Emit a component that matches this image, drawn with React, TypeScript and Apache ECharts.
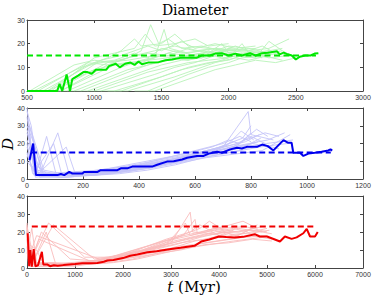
import React, { useEffect, useRef } from "react";
import * as echarts from "echarts";

type Pt = [number, number];

// ---------- Panel 1 (green) ----------
const greenMain: Pt[] = [[500,0],[725,0],[742,3],[762,0],[795,7],[820,0],[837,5],[880,6.5],[920,8],[950,8],[982,7.3],[1012,9],[1050,9],[1090,9],[1110,10.5],[1160,11.5],[1190,10],[1230,11.5],[1270,12],[1300,11],[1330,12.5],[1355,11.3],[1400,12],[1480,12.2],[1530,13],[1580,13.3],[1640,14],[1700,14],[1760,14],[1800,15],[1860,15],[1900,15.8],[1950,16],[2000,15],[2050,15.8],[2100,15],[2160,16],[2200,15],[2250,16],[2290,16.2],[2359,16.8],[2380,15.5],[2410,16.2],[2440,15.5],[2470,15],[2500,13.3],[2530,14.5],[2570,15],[2610,15],[2640,15.8],[2668,16]];
const greenRef: Pt[] = [[500,15],[2650,15]];
const greenRuns: Pt[][] = [
  [[500,0],[620,0],[1000,12],[1150,13],[1300,16],[1400,14],[1500,18],[1650,16],[1800,17],[2000,15],[2100,16]],
  [[500,0],[700,0],[1100,12],[1250,14],[1350,17],[1420,28],[1480,20],[1550,22],[1650,18],[1800,19],[1950,17],[2200,18]],
  [[500,0],[750,0],[1150,11],[1300,12],[1450,14],[1520,26],[1560,18],[1700,16],[1900,18],[2100,17],[2350,16]],
  [[500,0],[800,0],[1200,10],[1350,13],[1500,15],[1600,17],[1750,15],[1900,16],[2050,19],[2150,17],[2300,18],[2450,22]],
  [[800,0],[850,0],[1250,9],[1400,11],[1550,13],[1650,15],[1800,14],[2000,16],[2200,15],[2400,17],[2500,14]],
  [[850,0],[900,0],[1300,9],[1450,12],[1600,14],[1700,13],[1850,17],[1950,15],[2150,16]],
  [[900,0],[950,0],[1350,8],[1500,11],[1650,13],[1800,14],[1950,20],[2000,16],[2250,15],[2400,16]],
  [[950,0],[1000,0],[1400,8],[1550,10],[1700,12],[1850,13],[2000,14],[2100,20],[2150,16],[2300,17]],
  [[1000,0],[1050,0],[1450,7],[1600,10],[1750,12],[1900,15],[2000,18],[2150,17],[2250,19],[2350,16]],
  [[1050,0],[1150,0],[1500,6],[1650,9],[1800,11],[1950,13],[2050,15],[2200,14],[2300,21],[2400,17]],
  [[1150,0],[1250,0],[1600,6],[1750,9],[1900,12],[2050,14],[2150,13],[2300,15]],
  [[1300,0],[1400,0],[1700,7],[1850,10],[2000,12],[2100,14],[2250,15],[2400,13]],
  [[600,0],[650,0],[950,11],[1100,14],[1200,17],[1300,22],[1350,19],[1500,20],[1600,24],[1700,19],[1850,18],[2000,17]],
  [[700,0],[1050,13],[1200,15],[1400,19],[1500,17],[1650,21],[1750,18],[1900,20],[2050,18],[2200,19]],
  [[550,0],[900,10],[1050,12],[1250,13],[1450,15],[1600,14],[1800,16],[1950,14],[2100,15]],
  [[650,0],[1000,9],[1150,11],[1350,12],[1550,16],[1700,15],[1900,17],[2050,16],[2250,14]],
  [[520,0],[850,11],[1000,13],[1150,12],[1300,15],[1450,17],[1600,19],[1750,17],[1900,18],[2050,17]],
  [[580,0],[950,12],[1100,11],[1250,14],[1400,16],[1550,15],[1700,18],[1850,16],[2000,19],[2150,18],[2300,16]],
  [[1100,0],[1200,0],[1550,7],[1700,10],[1850,12],[2000,13],[2150,16],[2300,14],[2450,15]],
  [[750,0],[1100,11],[1250,12],[1400,13],[1550,14],[1700,13],[1850,15],[2000,17],[2200,16],[2400,18]],
  [[1400,0],[1450,0],[1750,6],[1900,9],[2050,11],[2200,13],[2350,12],[2500,14]],
  [[680,0],[1000,14],[1150,16],[1300,18],[1380,24],[1450,19],[1600,20],[1750,22],[1850,19],[2000,20]]
];

// ---------- Panel 2 (blue) ----------
const blueMain: Pt[] = [[9,10.6],[22,20],[32,2.2],[109,2.2],[121,2.8],[133,2.2],[151,4],[162,3.1],[198,3.1],[204,4],[252,4],[263,5],[323,5],[335,6],[358,6],[376,7],[447,7],[465,8],[500,9.8],[524,10],[554,11],[572,12],[607,13],[631,13],[649,14.3],[679,15.4],[696,14.8],[726,16.7],[750,17.6],[767,17.2],[785,18.1],[821,18.1],[840,19.4],[860,18.5],[880,16.1],[916,21.9],[933,20.4],[945,20.4],[951,14.8],[975,14.8],[987,13],[1005,14.3],[1028,14.8],[1052,15.4],[1076,16.1],[1084,16.7],[1090,16]];
const blueRef: Pt[] = [[15,15],[1085,15]];
const blueRuns: Pt[][] = [
  [[0,30],[20,22],[60,2],[150,2],[250,3],[350,5],[450,8],[550,11],[650,16],[750,20],[800,24],[850,20]],
  [[0,38],[15,30],[40,3],[120,1],[220,2],[320,4],[420,6],[520,9],[620,13],[700,18],[790,38],[800,25],[880,22]],
  [[5,25],[30,1],[100,2],[200,3],[300,4],[400,7],[500,10],[600,12],[700,15],[780,22],[850,26],[900,24]],
  [[10,20],[50,4],[110,26],[150,3],[250,4],[350,6],[450,9],[550,12],[650,15],[750,19],[820,28],[860,24]],
  [[0,15],[25,2],[130,1],[230,2],[330,3],[430,5],[530,8],[630,12],[730,15],[830,18],[930,20]],
  [[0,12],[10,18],[35,5],[100,3],[200,4],[300,6],[400,8],[500,12],[600,16],[700,20],[760,24],[800,21]],
  [[0,28],[30,8],[80,2],[180,2],[280,3],[380,5],[480,9],[580,13],[680,17],[780,21],[830,25]],
  [[0,35],[20,12],[60,3],[160,4],[260,5],[360,8],[460,11],[560,14],[660,18],[720,22],[760,20],[800,26]],
  [[15,8],[40,2],[140,2],[240,2],[340,4],[440,6],[540,9],[640,12],[740,14],[840,16],[940,25]],
  [[0,22],[40,3],[140,18],[170,4],[270,4],[370,7],[470,10],[570,13],[670,17],[770,23],[800,30]],
  [[0,10],[30,4],[90,3],[190,3],[290,5],[390,7],[490,10],[590,14],[690,18],[740,21],[780,17]],
  [[5,32],[60,5],[160,2],[260,3],[360,4],[460,7],[560,11],[660,15],[760,19],[860,22],[920,26]],
  [[0,18],[45,1],[150,1],[250,3],[350,5],[450,7],[550,10],[650,14],[750,17],[850,19],[900,17]],
  [[0,26],[35,6],[95,20],[125,2],[225,3],[325,5],[425,8],[525,11],[625,14],[725,16],[825,21]],
  [[0,40],[25,4],[85,2],[185,3],[285,4],[385,6],[485,9],[585,12],[685,16],[785,19],[835,23]],
  [[0,20],[20,3],[115,2],[215,4],[315,6],[415,9],[515,12],[615,15],[715,19],[765,27],[810,22]],
  [[8,30],[55,3],[155,3],[255,4],[355,5],[455,8],[555,10],[655,13],[755,16],[855,20],[950,22]],
  [[0,14],[30,2],[70,24],[105,2],[205,2],[305,3],[405,6],[505,10],[605,14],[705,17],[805,20],[870,18]]
];

// ---------- Panel 3 (red) ----------
const redMain: Pt[] = [[14,19.3],[45,1],[70,10],[100,0.8],[140,10.5],[175,1],[230,1.5],[310,9],[340,2],[420,2],[480,1],[560,1.5],[640,1.2],[760,1.6],[1000,2.2],[1150,2.6],[1300,2.6],[1465,2.8],[1600,3.5],[1675,4.2],[1800,4.5],[2000,5.5],[2150,6.8],[2300,7.5],[2512,8.7],[2700,9.3],[3000,10.5],[3200,11.2],[3489,12.3],[3629,14.7],[3800,15.8],[4000,17.5],[4150,17.2],[4327,17],[4500,17.3],[4745,18.8],[4850,17.5],[5000,17.5],[5150,16],[5270,14.7],[5373,17.5],[5513,16.2],[5618,17],[5757,19.3],[5827,21.7],[5897,17.5],[6000,17.5],[6057,20]];
const redRef: Pt[] = [[100,23],[6030,23]];
const redRuns: Pt[][] = [
  [[0,22],[50,3],[300,2],[800,2],[1200,3],[1700,5],[2200,8],[2700,12],[3200,15],[3700,18],[4200,20],[4700,21],[5100,19]],
  [[0,18],[100,2],[400,20],[600,2],[1000,2],[1500,4],[2000,7],[2500,10],[3000,14],[3400,31],[3450,20],[3900,19],[4400,22],[4900,20]],
  [[0,25],[30,5],[200,18],[1500,5],[2000,6],[2500,9],[3000,11],[3500,15],[4000,17],[4500,19],[5000,22]],
  [[20,15],[80,1],[500,1],[1000,2],[1400,3],[1900,5],[2400,9],[2900,13],[3300,25],[3400,18],[3900,21],[4400,18],[4800,24]],
  [[0,20],[60,8],[150,2],[700,1],[1200,2],[1700,4],[2200,6],[2700,9],[3200,12],[3700,14],[4200,16],[4700,18],[5100,16]],
  [[0,12],[40,1],[300,20],[900,5],[1400,4],[1900,7],[2400,10],[2900,14],[3400,17],[3900,20],[4300,22],[4600,20]],
  [[10,22],[150,3],[600,2],[1100,3],[1600,5],[2100,9],[2600,13],[3100,17],[3600,20],[4100,23],[4500,26],[4800,22]],
  [[0,8],[100,22],[200,3],[800,2],[1300,2],[1800,3],[2300,5],[2800,8],[3300,11],[3800,13],[4300,15],[4900,17]],
  [[0,17],[30,2],[450,25],[1200,6],[1700,6],[2200,8],[2700,11],[3200,14],[3700,16],[4200,19],[4500,17]],
  [[0,21],[70,4],[350,2],[900,3],[1400,4],[1900,6],[2400,11],[2900,16],[3400,20],[3600,24],[4000,18],[4300,21]],
  [[5,19],[50,1],[250,1],[1000,1],[1500,3],[2000,5],[2500,7],[3000,10],[3500,13],[4000,15],[4500,17],[5000,18]],
  [[0,14],[200,10],[350,2],[900,2],[1500,4],[2100,7],[2700,12],[3300,19],[3600,22],[3800,26],[4100,21]],
  [[0,23],[120,2],[500,3],[1100,2],[1600,4],[2100,6],[2600,10],[3100,13],[3600,17],[4100,20],[4600,19],[5050,21]],
  [[0,16],[60,2],[250,16],[1300,4],[1800,5],[2300,9],[2800,12],[3300,16],[3800,19],[4300,17],[4700,22]],
  [[0,20],[80,3],[400,2],[1250,3],[1750,6],[2250,10],[2750,14],[3250,18],[3500,27],[3550,19],[4050,22],[4550,23],[5000,20]],
  [[0,24],[40,2],[350,3],[1200,2],[1700,3],[2200,5],[2700,8],[3200,10],[3700,13],[4200,14],[4700,16],[5100,15]],
  [[15,18],[90,2],[550,24],[1400,5],[1900,7],[2400,10],[2900,15],[3400,18],[3900,22],[4400,20],[4900,23]]
];

// ---------- Axes ----------
const xRanges: [number, number, number][] = [[500, 3000, 500], [0, 1200, 200], [0, 7000, 1000]];
const yRanges: [number, number, number][] = [[0, 30, 10], [0, 40, 10], [0, 40, 10]];

const panelColors = [
  { main: "#00e800", faint: "#b9f3b9" },
  { main: "#0000ee", faint: "#c4c4f8" },
  { main: "#f00000", faint: "#f9bcbc" }
];

const gridBoxes = [
  { left: 27, right: 11, top: 20, height: 71 },
  { left: 27, right: 11, top: 108, height: 71 },
  { left: 27, right: 11, top: 196, height: 72 }
];

export default function App() {
  const ref = useRef<HTMLDivElement>(null);
  useEffect(() => {
    if (!ref.current) return;
    const chart = echarts.init(ref.current, null, { renderer: "svg" });
    const axisColor = "#444";
    const xAxis: any[] = [];
    const yAxis: any[] = [];
    const series: any[] = [];
    const panels = [
      { main: greenMain, ref: greenRef, runs: greenRuns },
      { main: blueMain, ref: blueRef, runs: blueRuns },
      { main: redMain, ref: redRef, runs: redRuns }
    ];
    const fmt = (v: number) => String(v);
    panels.forEach((p, i) => {
      const [xmin, xmax, xint] = xRanges[i];
      const [ymin, ymax, yint] = yRanges[i];
      const common = {
        type: "value",
        gridIndex: i,
        splitLine: { show: false },
        axisLine: { show: true, onZero: false, lineStyle: { color: axisColor, width: 1 } },
        axisTick: { show: true, inside: true, length: 3, lineStyle: { color: axisColor } }
      };
      xAxis.push({
        ...common, position: "bottom", min: xmin, max: xmax, interval: xint,
        axisLabel: { show: true, fontSize: 7, color: "#333", margin: 3, fontFamily: "Liberation Sans", showMinLabel: true, showMaxLabel: true, formatter: fmt }
      });
      xAxis.push({ ...common, position: "top", min: xmin, max: xmax, interval: xint, axisLabel: { show: false } });
      yAxis.push({
        ...common, position: "left", min: ymin, max: ymax, interval: yint,
        axisLabel: { show: true, fontSize: 7, color: "#333", margin: 2, fontFamily: "Liberation Sans", showMinLabel: true, showMaxLabel: true, formatter: fmt }
      });
      yAxis.push({ ...common, position: "right", min: ymin, max: ymax, interval: yint, axisLabel: { show: false } });
      const xi = i * 2;
      p.runs.forEach((run) => {
        series.push({
          type: "line", xAxisIndex: xi, yAxisIndex: xi, data: run, showSymbol: false, silent: true,
          lineStyle: { color: panelColors[i].faint, width: 0.9 }, z: 1
        });
      });
      series.push({
        type: "line", xAxisIndex: xi, yAxisIndex: xi, data: p.ref, showSymbol: false, silent: true,
        lineStyle: { color: panelColors[i].main, width: 2, type: [6, 3.5] }, z: 3
      });
      series.push({
        type: "line", xAxisIndex: xi, yAxisIndex: xi, data: p.main, showSymbol: false, silent: true,
        lineStyle: { color: panelColors[i].main, width: 2 }, z: 4
      });
    });

    chart.setOption({
      animation: false,
      backgroundColor: "#ffffff",
      grid: gridBoxes.map((g) => ({ ...g, containLabel: false })),
      xAxis,
      yAxis,
      series,
      graphic: [
        {
          type: "text", x: 195, y: 3,
          style: { text: "Diameter", font: '14px "DejaVu Serif"', fill: "#000", textAlign: "center", textVerticalAlign: "top" }
        },
        {
          type: "text", x: 194, y: 287,
          style: {
            text: "{i|t} (Myr)", font: '15px "DejaVu Serif"', fill: "#000", textAlign: "center", textVerticalAlign: "middle",
            rich: { i: { fontStyle: "italic", fontFamily: "DejaVu Serif", fontSize: 15 } }
          }
        },
        {
          type: "text", x: 8, y: 144, rotation: Math.PI / 2,
          style: { text: "D", font: 'italic 15px "DejaVu Serif"', fill: "#000", textAlign: "center", textVerticalAlign: "middle" }
        }
      ]
    });
    return () => chart.dispose();
  }, []);
  return <div ref={ref} style={{ position: "fixed", left: 0, top: 0, width: 374, height: 299 }} />;
}
